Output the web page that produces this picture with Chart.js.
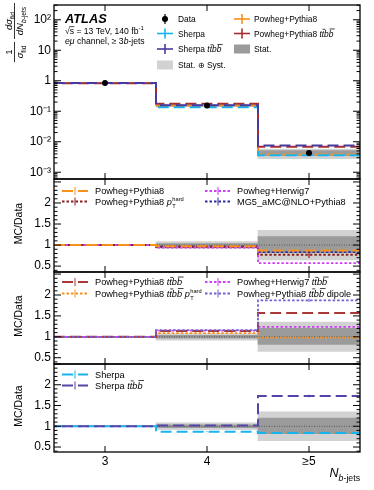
<!DOCTYPE html>
<html><head><meta charset="utf-8">
<script src="https://cdn.jsdelivr.net/npm/chart.js@4.4.1/dist/chart.umd.min.js"></script>
<style>
html,body{margin:0;padding:0;background:#fff;}
body{width:374px;height:490px;overflow:hidden;position:relative;}
canvas{position:absolute;left:0;top:-50px;}
</style></head>
<body>
<canvas id="p1" width="374" height="590"></canvas>
<canvas id="p2" width="374" height="590"></canvas>
<canvas id="p3" width="374" height="590"></canvas>
<canvas id="p4" width="374" height="590"></canvas>
<script>
// ---------------- DATA ----------------
const binEdges = [2.5, 3.5, 4.5, 5.5];
const binCenters = [3, 4, 5];
const binLabels = ['3', '4', '\u22655'];
const logTicks = [1e-3, 1e-2, 1e-1, 1, 10, 100];
const logTickLabels = ['10\u207B\u00B3', '10\u207B\u00B2', '10\u207B\u00B9', '1', '10', '10\u00B2'];
const ratioTicks = [0.5, 1, 1.5, 2];
const ratioTickLabels = ['0.5', '1', '1.5', '2'];

// top panel: normalised cross-section
const dataXsec    = [0.84, 0.155, 0.0043];
const dataXsecErr = [0.004, 0.002, 0.0003];
const xsecStatLo  = [0.836, 0.150, 0.0035];
const xsecStatHi  = [0.844, 0.160, 0.0051];
const xsecTotLo   = [0.830, 0.145, 0.0028];
const xsecTotHi   = [0.850, 0.166, 0.0058];
const sherpaXsec     = [0.845, 0.135, 0.0036];
const sherpaTtbbXsec = [0.840, 0.158, 0.0075];
const pp8Xsec        = [0.845, 0.150, 0.0038];
const pp8TtbbXsec    = [0.835, 0.176, 0.0068];

// ratio panels: uncertainty bands
const ratioStatLo = [0.993, 0.965, 0.82];
const ratioStatHi = [1.007, 1.035, 1.20];
const ratioTotLo  = [0.988, 0.92, 0.65];
const ratioTotHi  = [1.012, 1.08, 1.35];
const dataRatio   = [1, 1, 1];

// panel 2
const rPP8   = [1.0, 0.97, 0.87];
const rPP8pT = [1.0, 0.96, 0.77];
const rPH7   = [1.0, 0.94, 0.57];
const rMG5   = [1.0, 0.96, 0.83];
const rPP8pTErr = [0.003, 0.012, 0.08];
// panel 3
const rPP8bb    = [1.0, 1.14, 1.57];
const rPP8bbpT  = [1.0, 1.09, 0.98];
const rPH7bb    = [1.0, 1.15, 1.24];
const rPP8bbDip = [1.0, 1.16, 1.87];
const rPP8bbDipErr = [0.003, 0.01, 0.04];
// panel 4
const rSherpa   = [1.0, 0.87, 0.84];
const rSherpaBb = [1.0, 1.02, 1.73];
const rSherpaErr = [0.003, 0.01, 0.03];

// ---------------- STYLE ----------------
const FONT = '"Liberation Sans", Arial, Helvetica, sans-serif';
const OFF = 50, CH = 590;
const PANELS = [[5, 179], [179, 272], [272, 364], [364, 452]];
const AXH = 22;
const COL = {
  cyan: '#18b4ee', indigo: '#473a9f', orange: '#f8901c', red: '#a62d2d', darkred: '#8e1f1f',
  magenta: '#cf3df6', navy: '#2c2c9c', slate: '#6f5fd2', stat: '#9b9b9b', tot: '#d2d2d2'
};
const LD = [11, 5], DT = [2.5, 2];
const ST = {
  sherpaTop: {color: COL.cyan, dash: LD, width: 2},
  sherpaBbTop: {color: COL.indigo, dash: LD, width: 2},
  pp8Top: {color: COL.orange, dash: LD, width: 2},
  pp8BbTop: {color: COL.red, dash: LD, width: 2},
  pp8: {color: COL.orange, dash: LD, width: 2},
  pp8pT: {color: COL.darkred, dash: DT, width: 1.8},
  ph7: {color: COL.magenta, dash: DT, width: 1.8},
  mg5: {color: COL.navy, dash: DT, width: 1.8},
  pp8bb: {color: '#aa3838', dash: LD, width: 2},
  pp8bbpT: {color: COL.orange, dash: DT, width: 1.8},
  ph7bb: {color: COL.magenta, dash: DT, width: 1.8},
  dip: {color: COL.slate, dash: DT, width: 1.8},
  sherpa: {color: COL.cyan, dash: LD, width: 2},
  sherpaBb: {color: '#5446a6', dash: LD, width: 2},
  ref: {color: '#555', dash: [1, 1.5], width: 1}
};
const TTBB = 'tt\u0304bb\u0304';
const TTBB_SEG = {t: 'ttbb', i: 1, bars: [1, 3]};   // drawn as t t-bar b b-bar

function lineDS(label, vals, st, order, errs, dashOffset) {
  return {
    type: 'line', label,
    data: binEdges.map((e, i) => ({x: e, y: vals[Math.min(i, vals.length - 1)]})),
    borderColor: st.color, borderWidth: st.width, borderDash: st.dash, borderDashOffset: dashOffset || 0,
    stepped: 'before', pointRadius: 0, fill: false, order,
    errs: errs ? errs : null, errVals: vals, errColor: st.color
  };
}
function bandDS(label, lo, hi, color, order) {
  return {
    type: 'bar', label,
    data: binCenters.map((c, i) => ({x: c, y: [lo[i], hi[i]]})),
    backgroundColor: color, borderWidth: 0, barPercentage: 1, categoryPercentage: 1,
    grouped: false, order
  };
}

// ---------------- TEXT HELPERS ----------------
function segFont(s, size) {
  const sz = (s.sub || s.sup) ? size * 0.7 : size;
  return (s.i ? 'italic ' : '') + (s.b ? 'bold ' : '') + sz.toFixed(2) + 'px ' + FONT;
}
function drawRich(ctx, x, y, segsIn, size, align) {
  const segs = segsIn.map(s => Object.assign({}, s));
  let w = 0;
  for (const s of segs) {
    if (s.stack) {
      ctx.font = (size * 0.62).toFixed(2) + 'px ' + FONT;
      s._w = Math.max(ctx.measureText(s.stack[0]).width, ctx.measureText(s.stack[1]).width);
    } else {
      ctx.font = segFont(s, size);
      s._w = ctx.measureText(s.t).width;
    }
    w += s._w;
  }
  let cx = align === 'center' ? x - w / 2 : align === 'right' ? x - w : x;
  ctx.textAlign = 'left'; ctx.textBaseline = 'alphabetic';
  for (const s of segs) {
    if (s.stack) {
      ctx.font = (size * 0.62).toFixed(2) + 'px ' + FONT;
      ctx.fillText(s.stack[0], cx + 0.5, y + size * 0.38);
      ctx.fillText(s.stack[1], cx + 0.5, y - size * 0.45);
    } else {
      ctx.font = segFont(s, size);
      const dy = s.sub ? size * 0.32 : s.sup ? -size * 0.42 : 0;
      ctx.fillText(s.t, cx, y + dy);
      if (s.over) {
        ctx.save(); ctx.lineWidth = 0.7; ctx.strokeStyle = ctx.fillStyle;
        ctx.beginPath(); ctx.moveTo(cx - 0.5, y - size * 0.86); ctx.lineTo(cx + s._w + 0.3, y - size * 0.86); ctx.stroke();
        ctx.restore();
      }
      if (s.bars) {
        ctx.save(); ctx.lineWidth = 0.75; ctx.strokeStyle = ctx.fillStyle;
        for (const k of s.bars) {
          const x0 = cx + ctx.measureText(s.t.slice(0, k)).width;
          const cw = ctx.measureText(s.t[k]).width;
          const yb = y - size * (s.t[k] === 'b' ? 0.9 : 0.86);
          const sl = size * 0.16;
          ctx.beginPath(); ctx.moveTo(x0 + sl * 0.6, yb); ctx.lineTo(x0 + cw + sl, yb); ctx.stroke();
        }
        ctx.restore();
      }
    }
    cx += s._w;
  }
  return w;
}
function seg(ctx, x1, y1, x2, y2) { ctx.beginPath(); ctx.moveTo(x1, y1); ctx.lineTo(x2, y2); ctx.stroke(); }

function drawLegend(ctx, items, size) {
  ctx.save();
  for (const it of items) {
    const xm = (it.x0 + it.x1) / 2;
    ctx.setLineDash([]);
    if (it.mk === 'data') {
      ctx.strokeStyle = '#000'; ctx.fillStyle = '#000'; ctx.lineWidth = 1.2;
      seg(ctx, xm, it.y - 5, xm, it.y + 5);
      ctx.beginPath(); ctx.arc(xm, it.y, 3, 0, Math.PI * 2); ctx.fill();
    } else if (it.mk === 'cross') {
      ctx.strokeStyle = it.st.color; ctx.lineWidth = 1.6;
      seg(ctx, it.x0, it.y, it.x1, it.y);
      seg(ctx, xm, it.y - 5, xm, it.y + 5);
    } else if (it.mk === 'box') {
      ctx.fillStyle = it.color;
      ctx.fillRect(it.x0, it.y - 4.5, it.x1 - it.x0, 9);
    } else if (it.mk === 'line') {
      ctx.strokeStyle = it.st.color; ctx.lineWidth = it.st.width;
      ctx.setLineDash(it.st.dash);
      seg(ctx, it.x0, it.y, it.x1, it.y);
      ctx.setLineDash([]); ctx.lineWidth = 1;
      seg(ctx, xm, it.y - 4, xm, it.y + 4);
    }
    ctx.fillStyle = '#000';
    drawRich(ctx, it.tx, it.y + size * 0.36, it.segs, size, 'left');
  }
  ctx.restore();
}

function drawFrame(chart, kind) {
  const ctx = chart.ctx, a = chart.chartArea, ys = chart.scales.y, xs = chart.scales.x;
  ctx.save();
  ctx.setLineDash([]);
  ctx.strokeStyle = '#000';
  ctx.lineWidth = 1;
  const tk = (y, len) => { seg(ctx, a.left, y, a.left + len, y); seg(ctx, a.right, y, a.right - len, y); };
  if (kind === 'log') {
    const lmin = Math.floor(Math.log10(ys.min)), lmax = Math.ceil(Math.log10(ys.max));
    for (let d = lmin; d <= lmax; d++) for (let k = 1; k < 10; k++) {
      const v = k * Math.pow(10, d);
      if (v < ys.min || v > ys.max) continue;
      tk(ys.getPixelForValue(v), k === 1 ? 7 : 3.5);
    }
  } else {
    for (let k = Math.ceil(ys.min * 10); k <= Math.floor(ys.max * 10); k++) {
      tk(ys.getPixelForValue(k / 10), k % 5 === 0 ? 7 : 3.5);
    }
  }
  binCenters.forEach(c => {
    const x = xs.getPixelForValue(c);
    seg(ctx, x, a.top, x, a.top + 6); seg(ctx, x, a.bottom, x, a.bottom - 6);
  });
  ctx.lineWidth = 1.3;
  ctx.strokeRect(a.left, a.top, a.right - a.left, a.bottom - a.top);
  ctx.restore();
}

function drawErrors(chart) {
  const ctx = chart.ctx, a = chart.chartArea, ys = chart.scales.y, xs = chart.scales.x;
  ctx.save();
  ctx.beginPath(); ctx.rect(a.left, a.top, a.right - a.left, a.bottom - a.top); ctx.clip();
  ctx.setLineDash([]);
  chart.data.datasets.forEach(ds => {
    if (!ds.errs) return;
    ctx.strokeStyle = ds.errColor; ctx.lineWidth = 1.2;
    binCenters.forEach((c, i) => {
      const x = xs.getPixelForValue(c);
      const v = ds.errVals[i], e = ds.errs[i];
      seg(ctx, x, ys.getPixelForValue(v - e), x, ys.getPixelForValue(v + e));
    });
  });
  ctx.restore();
}

function mcDataTitle(ctx, pi) {
  const mid = (PANELS[pi][0] + PANELS[pi][1]) / 2 + OFF - 2;
  ctx.save();
  ctx.translate(19, mid); ctx.rotate(-Math.PI / 2);
  ctx.fillStyle = '#000'; ctx.font = '10.5px ' + FONT; ctx.textAlign = 'center'; ctx.textBaseline = 'middle';
  ctx.fillText('MC/Data', 0, 0);
  ctx.restore();
}

// ---------------- CHART FACTORY ----------------
function makeChart(id, pi, datasets, yCfg, decor) {
  const isBottom = pi === 3;
  const [pt, pb] = PANELS[pi];
  const padBottom = CH - (OFF + pb) - (isBottom ? AXH : 0);
  const y = Object.assign({
    afterFit: s => { s.width = 54; },
    grid: {display: false, drawTicks: false},
    border: {display: false},
    ticks: {padding: 3, color: '#000', font: {family: FONT, size: 12}, autoSkip: false}
  }, yCfg);
  return new Chart(document.getElementById(id), {
    type: 'line',
    data: {datasets},
    options: {
      responsive: false, animation: false, devicePixelRatio: 1, events: [],
      layout: {padding: {left: 0, right: 14, top: OFF + pt, bottom: padBottom}},
      plugins: {legend: {display: false}, tooltip: {enabled: false}},
      scales: {
        x: {
          type: 'linear', min: 2.5, max: 5.5, display: isBottom, offset: false,
          afterBuildTicks: s => { s.ticks = binCenters.map(v => ({value: v})); },
          afterFit: s => { s.height = isBottom ? AXH : 0; },
          grid: {display: false, drawTicks: false, offset: false}, border: {display: false},
          ticks: {padding: 2, color: '#000', font: {family: FONT, size: 12}, maxRotation: 0, autoSkip: false,
                  callback: (v, i) => binLabels[i]}
        },
        y
      }
    },
    plugins: [{
      id: 'decor' + pi,
      afterDatasetsDraw(chart) { drawErrors(chart); drawFrame(chart, yCfg.type === 'logarithmic' ? 'log' : 'lin'); },
      afterDraw(chart) { decor(chart.ctx, chart); }
    }]
  });
}

const ratioY = (min, max) => ({
  type: 'linear', min, max,
  afterBuildTicks: s => { s.ticks = ratioTicks.map(v => ({value: v})); },
  ticks: {padding: 3, color: '#000', font: {family: FONT, size: 12}, autoSkip: false, callback: (v, i) => ratioTickLabels[i]}
});

// ---------------- PANEL 1 ----------------
makeChart('p1', 0, [
  bandDS('Stat. \u2295 Syst.', xsecTotLo, xsecTotHi, COL.tot, 20),
  bandDS('Stat.', xsecStatLo, xsecStatHi, COL.stat, 19),
  lineDS('Powheg+Pythia8', pp8Xsec, ST.pp8Top, 6, null, 3),
  lineDS('Sherpa', sherpaXsec, ST.sherpaTop, 5, null, 0),
  lineDS('Powheg+Pythia8 ' + TTBB, pp8TtbbXsec, ST.pp8BbTop, 4, null, 8),
  lineDS('Sherpa ' + TTBB, sherpaTtbbXsec, ST.sherpaBbTop, 3, null, 0),
  {type: 'line', label: 'Data', data: binCenters.map((c, i) => ({x: c, y: dataXsec[i]})), showLine: false,
   pointRadius: 3, pointBackgroundColor: '#000', pointBorderColor: '#000', pointBorderWidth: 0, order: 0,
   errs: dataXsecErr, errVals: dataXsec, errColor: '#000'}
], {
  type: 'logarithmic', min: 6.27e-4, max: 305,
  afterBuildTicks: s => { s.ticks = logTicks.map(v => ({value: v})); },
  ticks: {padding: 3, color: '#000', font: {family: FONT, size: 12}, autoSkip: false, callback: (v, i) => logTickLabels[i]}
}, (ctx) => {
  const L = [
    {x0: 157, x1: 173, tx: 178, y: 19 + OFF, mk: 'data', segs: [{t: 'Data'}]},
    {x0: 157, x1: 173, tx: 178, y: 33.5 + OFF, mk: 'cross', st: ST.sherpaTop, segs: [{t: 'Sherpa'}]},
    {x0: 157, x1: 173, tx: 178, y: 49 + OFF, mk: 'cross', st: ST.sherpaBbTop, segs: [{t: 'Sherpa '}, TTBB_SEG]},
    {x0: 157, x1: 173, tx: 178, y: 65 + OFF, mk: 'box', color: COL.tot, segs: [{t: 'Stat. \u2295 Syst.'}]},
    {x0: 234, x1: 250, tx: 254, y: 19 + OFF, mk: 'cross', st: ST.pp8Top, segs: [{t: 'Powheg+Pythia8'}]},
    {x0: 234, x1: 250, tx: 254, y: 33.5 + OFF, mk: 'cross', st: ST.pp8BbTop, segs: [{t: 'Powheg+Pythia8 '}, TTBB_SEG]},
    {x0: 234, x1: 250, tx: 254, y: 49 + OFF, mk: 'box', color: COL.stat, segs: [{t: 'Stat.'}]}
  ];
  drawLegend(ctx, L, 8.4);
  ctx.save();
  ctx.fillStyle = '#000';
  drawRich(ctx, 65, 23 + OFF, [{t: 'ATLAS', i: 1, b: 1}], 12.8, 'left');
  drawRich(ctx, 65, 34 + OFF, [{t: '\u221A'}, {t: 's', over: true}, {t: ' = 13 TeV, 140 fb'}, {t: '-1', sup: true}], 8.6, 'left');
  drawRich(ctx, 65, 44 + OFF, [{t: 'e\u03BC', i: 1}, {t: ' channel, \u2265 3'}, {t: 'b', i: 1}, {t: '-jets'}], 8.6, 'left');
  // y-axis title (rotated fraction)
  ctx.translate(14.5, 33 + OFF); ctx.rotate(-Math.PI / 2);
  ctx.strokeStyle = '#000'; ctx.lineWidth = 0.8;
  seg(ctx, -29, 0, -9, 0);
  seg(ctx, -6, 0, 30, 0);
  drawRich(ctx, -19, -2.2, [{t: '1'}], 9.5, 'center');
  drawRich(ctx, -19, 8.6, [{t: '\u03C3', i: 1}, {t: 'fid', sub: true}], 9.5, 'center');
  drawRich(ctx, 12, -2.2, [{t: 'd', i: 1}, {t: '\u03C3', i: 1}, {t: 'fid', sub: true}], 9.5, 'center');
  drawRich(ctx, 12, 8.6, [{t: 'dN', i: 1}, {t: 'b', i: 1, sub: true}, {t: '-jets', sub: true}], 9.5, 'center');
  ctx.restore();
});

// ---------------- PANEL 2 ----------------
makeChart('p2', 1, [
  bandDS('Stat. \u2295 Syst.', ratioTotLo, ratioTotHi, COL.tot, 20),
  bandDS('Stat.', ratioStatLo, ratioStatHi, COL.stat, 19),
  lineDS('Data', dataRatio, ST.ref, 10),
  lineDS('MG5_aMC@NLO+Pythia8', rMG5, ST.mg5, 6),
  lineDS('Powheg+Pythia8 pT hard', rPP8pT, ST.pp8pT, 5, rPP8pTErr),
  lineDS('Powheg+Herwig7', rPH7, ST.ph7, 4, null, 2),
  lineDS('Powheg+Pythia8', rPP8, ST.pp8, 3)
], ratioY(0.36, 2.57), (ctx) => {
  const L = [
    {x0: 62, x1: 88, tx: 95, y: 191 + OFF, mk: 'line', st: ST.pp8, segs: [{t: 'Powheg+Pythia8'}]},
    {x0: 62, x1: 88, tx: 95, y: 201.5 + OFF, mk: 'line', st: ST.pp8pT, segs: [{t: 'Powheg+Pythia8 '}, {t: 'p', i: 1}, {stack: ['T', 'hard']}]},
    {x0: 205, x1: 231, tx: 237, y: 191 + OFF, mk: 'line', st: ST.ph7, segs: [{t: 'Powheg+Herwig7'}]},
    {x0: 205, x1: 231, tx: 237, y: 201.5 + OFF, mk: 'line', st: ST.mg5, segs: [{t: 'MG5_aMC@NLO+Pythia8'}]}
  ];
  drawLegend(ctx, L, 9.2);
  mcDataTitle(ctx, 1);
});

// ---------------- PANEL 3 ----------------
makeChart('p3', 2, [
  bandDS('Stat. \u2295 Syst.', ratioTotLo, ratioTotHi, COL.tot, 20),
  bandDS('Stat.', ratioStatLo, ratioStatHi, COL.stat, 19),
  lineDS('Data', dataRatio, ST.ref, 10),
  lineDS('Powheg+Pythia8 ' + TTBB + ' pT hard', rPP8bbpT, ST.pp8bbpT, 6),
  lineDS('Powheg+Herwig7 ' + TTBB, rPH7bb, ST.ph7bb, 5, null, 2),
  lineDS('Powheg+Pythia8 ' + TTBB, rPP8bb, ST.pp8bb, 4),
  lineDS('Powheg+Pythia8 ' + TTBB + ' dipole', rPP8bbDip, ST.dip, 3, rPP8bbDipErr)
], ratioY(0.35, 2.55), (ctx) => {
  const L = [
    {x0: 62, x1: 88, tx: 95, y: 282 + OFF, mk: 'line', st: ST.pp8bb, segs: [{t: 'Powheg+Pythia8 '}, TTBB_SEG]},
    {x0: 62, x1: 88, tx: 95, y: 293.5 + OFF, mk: 'line', st: ST.pp8bbpT, segs: [{t: 'Powheg+Pythia8 '}, TTBB_SEG, {t: ' p', i: 1}, {stack: ['T', 'hard']}]},
    {x0: 205, x1: 231, tx: 237, y: 282 + OFF, mk: 'line', st: ST.ph7bb, segs: [{t: 'Powheg+Herwig7 '}, TTBB_SEG]},
    {x0: 205, x1: 231, tx: 237, y: 293.5 + OFF, mk: 'line', st: ST.dip, segs: [{t: 'Powheg+Pythia8 '}, TTBB_SEG, {t: ' dipole'}]}
  ];
  drawLegend(ctx, L, 9.2);
  mcDataTitle(ctx, 2);
});

// ---------------- PANEL 4 ----------------
makeChart('p4', 3, [
  bandDS('Stat. \u2295 Syst.', ratioTotLo, ratioTotHi, COL.tot, 20),
  bandDS('Stat.', ratioStatLo, ratioStatHi, COL.stat, 19),
  lineDS('Data', dataRatio, ST.ref, 10),
  lineDS('Sherpa', rSherpa, ST.sherpa, 4, rSherpaErr),
  lineDS('Sherpa ' + TTBB, rSherpaBb, ST.sherpaBb, 3, rSherpaErr, 8)
], ratioY(0.38, 2.5), (ctx) => {
  const L = [
    {x0: 62, x1: 88, tx: 95, y: 374.5 + OFF, mk: 'line', st: ST.sherpa, segs: [{t: 'Sherpa'}]},
    {x0: 62, x1: 88, tx: 95, y: 385.5 + OFF, mk: 'line', st: ST.sherpaBb, segs: [{t: 'Sherpa '}, TTBB_SEG]}
  ];
  drawLegend(ctx, L, 9.2);
  mcDataTitle(ctx, 3);
  ctx.save(); ctx.fillStyle = '#000';
  drawRich(ctx, 360, 477 + OFF, [{t: 'N', i: 1}, {t: 'b', i: 1, sub: true}, {t: '-jets', sub: true}], 12.5, 'right');
  ctx.restore();
});
</script>
</body></html>
